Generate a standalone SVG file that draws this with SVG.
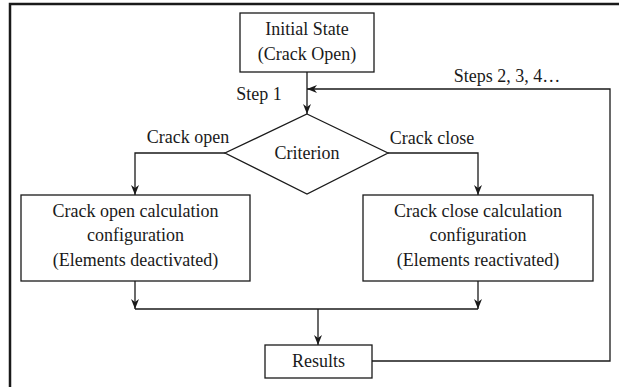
<svg xmlns="http://www.w3.org/2000/svg" width="619" height="387" viewBox="0 0 619 387">
<defs>
<marker id="ah" markerWidth="10" markerHeight="10" viewBox="0 0 10 8" refX="10" refY="4" markerUnits="userSpaceOnUse" orient="auto">
<path d="M0,0 L10,4 L0,8 L3,4 z" fill="#1a1a1a"/>
</marker>
<style>
.box{fill:#fff;stroke:#1a1a1a;stroke-width:1.3}
.t{font-family:"Liberation Serif","Times New Roman",serif;font-size:18px;fill:#1a1a1a;text-anchor:middle}
.c{fill:none;stroke:#1a1a1a;stroke-width:1.3}
.a{marker-end:url(#ah)}
.frame{fill:none;stroke:#1a1a1a;stroke-width:2.5}
</style>
</defs>
<rect width="619" height="387" fill="#fff"/>
<path class="frame" d="M10,387 V4 H619"/>
<g id="connectors">
<line class="c a" x1="307" y1="72" x2="307" y2="114"/>
<polyline class="c a" points="372,361 610,361 610,89 307,89"/>
<polyline class="c a" points="225,153 135,153 135,195"/>
<polyline class="c a" points="388,153 478,153 478,195"/>
<line class="c a" x1="135" y1="281" x2="135" y2="309"/>
<line class="c a" x1="478" y1="281" x2="478" y2="309"/>
<line class="c" x1="135" y1="309" x2="478" y2="309"/>
<line class="c a" x1="318" y1="309" x2="318" y2="345"/>
<text class="t" x="259" y="100">Step 1</text>
<text class="t" x="507" y="82">Steps 2, 3, 4…</text>
<text class="t" x="188" y="143">Crack open</text>
<text class="t" x="432" y="144">Crack close</text>
</g>
<g id="initial">
<rect class="box" x="240" y="13" width="134" height="59"/>
<text class="t" x="307" y="35">Initial State</text>
<text class="t" x="307" y="60">(Crack Open)</text>
</g>
<g id="criterion">
<polygon class="box" points="307,114 388,153 307,194 225,153"/>
<text class="t" x="307" y="159">Criterion</text>
</g>
<g id="open">
<rect class="box" x="21" y="195" width="229" height="86"/>
<text class="t" x="135.5" y="217">Crack open calculation</text>
<text class="t" x="135.5" y="241">configuration</text>
<text class="t" x="135.5" y="266">(Elements deactivated)</text>
</g>
<g id="close">
<rect class="box" x="363" y="195" width="230" height="86"/>
<text class="t" x="478" y="217">Crack close calculation</text>
<text class="t" x="478" y="241">configuration</text>
<text class="t" x="478" y="266">(Elements reactivated)</text>
</g>
<g id="results">
<rect class="box" x="265" y="345" width="107" height="33"/>
<text class="t" x="318.5" y="367">Results</text>
</g>
</svg>
